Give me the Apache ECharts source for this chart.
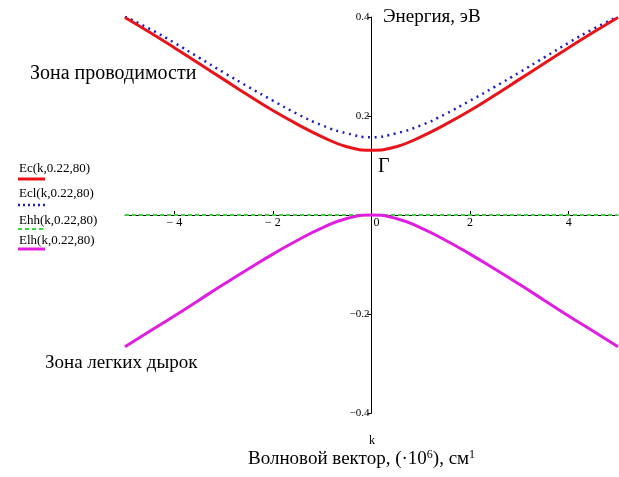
<!DOCTYPE html>
<html>
<head>
<meta charset="utf-8">
<script src="https://cdn.jsdelivr.net/npm/echarts@6/dist/echarts.min.js"></script>
<style>html,body{margin:0;padding:0;background:#fff}#c{width:619px;height:477px}</style>
</head>
<body>
<div id="c"></div>
<script>
const kValues = [-5,-4.5,-4,-3.5,-3,-2.5,-2,-1.5,-1,-0.5,0,0.5,1,1.5,2,2.5,3,3.5,4,4.5,5];
const ecValues  = [0.399,0.369,0.338,0.306,0.274,0.242,0.211,0.183,0.158,0.138,0.131,0.138,0.158,0.183,0.211,0.242,0.274,0.306,0.338,0.369,0.399];
const eclValues = [0.401,0.376,0.348,0.318,0.288,0.259,0.231,0.204,0.181,0.165,0.157,0.165,0.181,0.204,0.231,0.259,0.288,0.318,0.348,0.376,0.401];
const ehhValues = [0,0,0,0,0,0,0,0,0,0,0,0,0,0,0,0,0,0,0,0,0];
const elhValues = [-0.266,-0.235,-0.204,-0.172,-0.140,-0.109,-0.079,-0.051,-0.026,-0.007,0,-0.007,-0.026,-0.051,-0.079,-0.109,-0.140,-0.172,-0.204,-0.235,-0.266];
const xTicks = [-4,-2,0,2,4];
const yTicks = [-0.4,-0.2,0.2,0.4];
const seriesNames = ['Ec(k,0.22,80)','Ecl(k,0.22,80)','Ehh(k,0.22,80)','Elh(k,0.22,80)'];

const serif = '"Liberation Serif", "DejaVu Serif", serif';
const colors = ['#e8141a', '#1c1cc8', '#3ad83a', '#e01ee0'];
const pairs = vals => kValues.map((k, i) => [k, vals[i]]);

const W = 619, H = 477;
const grid = { left: 125, right: 1, top: 17, bottom: 64 };
const plotW = W - grid.left - grid.right;
const plotH = H - grid.top - grid.bottom;
// move the axes onto the zero lines (labels included)
const xAxisOffset = -plotH / 2;           // y range is symmetric: -0.4..0.4
const yAxisOffset = -plotW / 2;           // x range is symmetric: -5..5

const chart = echarts.init(document.getElementById('c'));

function legendItem(i, yText, yLine, lineType, width) {
  return [
    { type: 'text', left: 19, top: yText - 7,
      style: { text: seriesNames[i], font: '13px ' + serif, fill: '#000' } },
    { type: 'line', shape: { x1: 18, y1: yLine, x2: 45, y2: yLine },
      style: { stroke: colors[i], lineWidth: width, lineDash: lineType } }
  ];
}

chart.setOption({
  animation: false,
  backgroundColor: '#fff',
  grid: Object.assign({ containLabel: false, outerBoundsMode: 'none' }, grid),
  xAxis: {
    type: 'value', min: -5, max: 5, position: 'bottom', offset: xAxisOffset,
    axisLine: { onZero: false, lineStyle: { color: '#000', width: 1 } },
    axisTick: { inside: true, length: 4, customValues: xTicks, lineStyle: { color: '#000' } },
    axisLabel: {
      customValues: xTicks, margin: 2, color: '#000', fontFamily: serif, fontSize: 12,
      formatter: v => v === 0 ? '{z|0}' : (v < 0 ? '\u2212 ' + Math.abs(v) : String(v)),
      rich: { z: { padding: [0, 0, 0, 10], fontFamily: serif, fontSize: 12, color: '#000' } }
    },
    splitLine: { show: false }
  },
  yAxis: {
    type: 'value', min: -0.4, max: 0.4, interval: 0.2, position: 'left', offset: yAxisOffset,
    axisLine: { onZero: false, lineStyle: { color: '#000', width: 1 } },
    axisTick: { length: 4, customValues: yTicks, lineStyle: { color: '#000' } },
    axisLabel: {
      customValues: yTicks, margin: 2, color: '#000', fontFamily: serif, fontSize: 11,
      formatter: v => (v < 0 ? '\u2212' : '') + Math.abs(v).toFixed(1)
    },
    splitLine: { show: false }
  },
  series: [
    { name: seriesNames[0], type: 'line', data: pairs(ecValues), smooth: true, showSymbol: false,
      lineStyle: { color: colors[0], width: 3 }, z: 4 },
    { name: seriesNames[1], type: 'line', data: pairs(eclValues), smooth: true, showSymbol: false,
      lineStyle: { color: colors[1], width: 2.5, type: [2, 4.5] }, z: 3 },
    { name: seriesNames[2], type: 'line', data: pairs(ehhValues), smooth: true, showSymbol: false,
      lineStyle: { color: colors[2], width: 2, type: [4, 3] }, z: 3 },
    { name: seriesNames[3], type: 'line', data: pairs(elhValues), smooth: true, showSymbol: false,
      lineStyle: { color: colors[3], width: 3 }, z: 4 }
  ],
  graphic: [
    { type: 'text', left: 383, top: 8, style: { text: 'Энергия, эВ', font: '19px ' + serif, fill: '#000' } },
    { type: 'text', left: 30, top: 64, style: { text: 'Зона проводимости', font: '20px ' + serif, fill: '#000' } },
    { type: 'text', left: 45, top: 354, style: { text: 'Зона легких дырок', font: '19px ' + serif, fill: '#000' } },
    { type: 'text', left: 378, top: 157, style: { text: 'Γ', font: '20px ' + serif, fill: '#000' } },
    { type: 'text', left: 369, top: 435, style: { text: 'k', font: '12px ' + serif, fill: '#000' } },
    { type: 'text', left: 248, top: 449, style: {
        rich: {
          n: { font: '19px ' + serif, fill: '#000' },
          s: { font: '12px ' + serif, fill: '#000', verticalAlign: 'top', padding: [0, 0, 9, 0] }
        },
        text: '{n|Волновой вектор, (·10}{s|6}{n|), см}{s|1}'
      } }
  ].concat(
    legendItem(0, 169, 179, null, 3),
    legendItem(1, 194, 205, [2, 3], 2.5),
    legendItem(2, 221, 229, [4, 3], 2),
    legendItem(3, 241, 249, null, 3)
  )
});
</script>
</body>
</html>
